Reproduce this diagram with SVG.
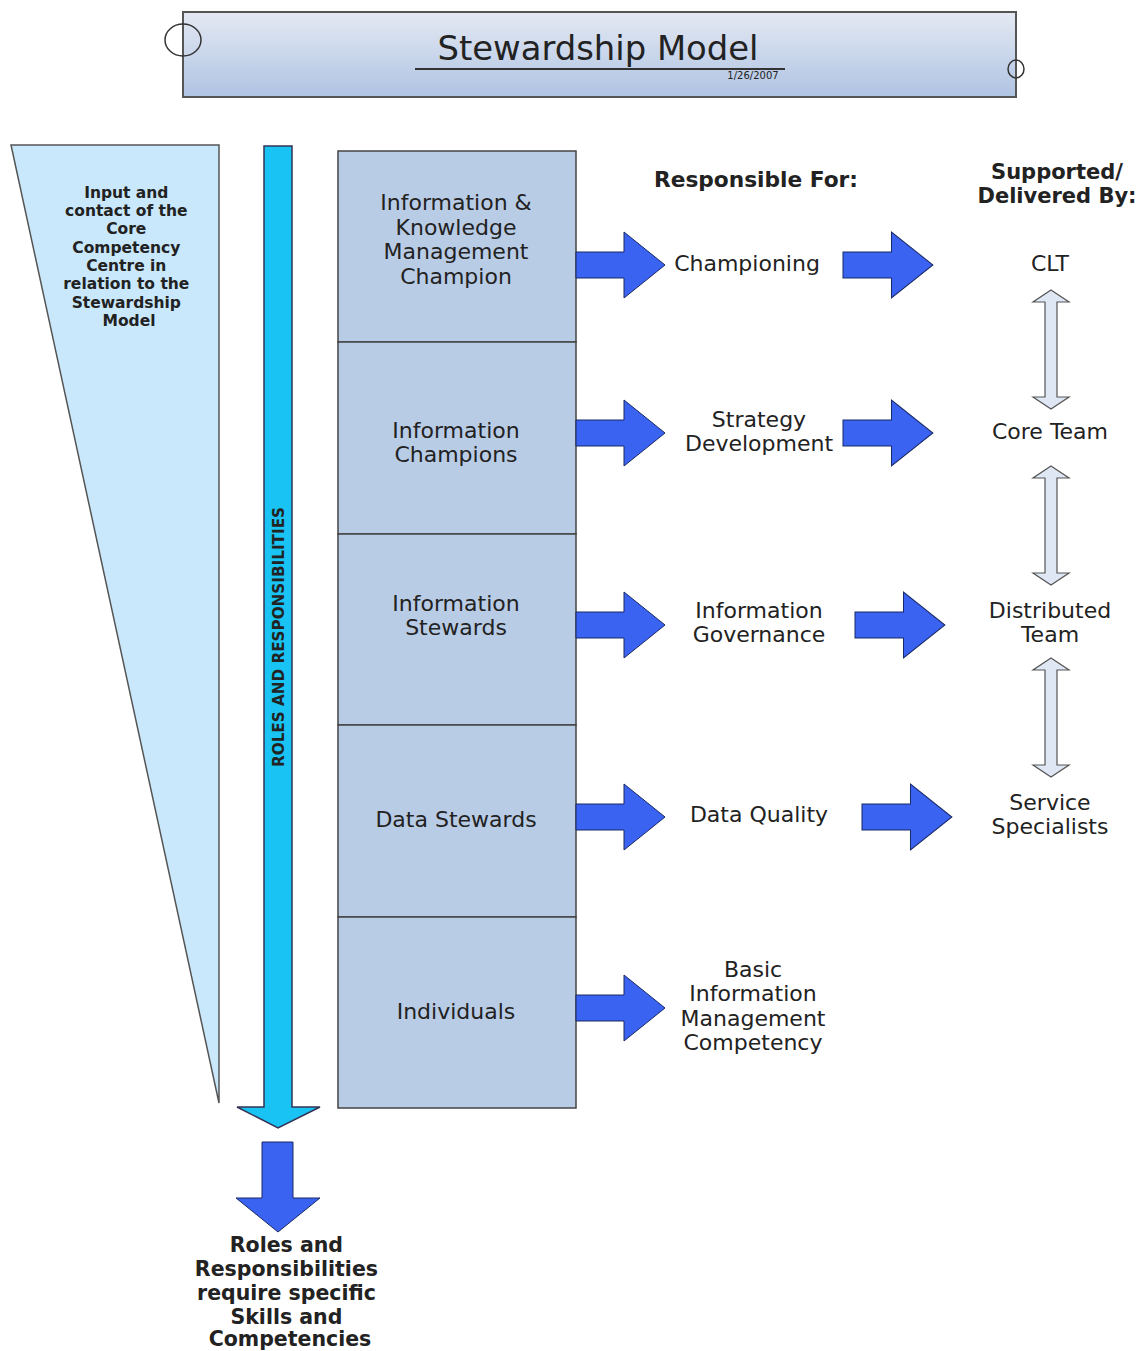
<svg xmlns="http://www.w3.org/2000/svg" width="1144" height="1351" viewBox="0 0 1144 1351">
<defs>
<linearGradient id="tg" x1="0" y1="0" x2="0" y2="1">
<stop offset="0" stop-color="#e4e9f3"/>
<stop offset="1" stop-color="#afc3e3"/>
</linearGradient>
<path id="ra" d="M0,-13 H48 V-33 L89,0 L48,33 V13 H0 Z"/>
<path id="da" d="M0,0 L18,12 H6 V107 H18 L0,119 L-18,107 H-6 V12 H-18 Z"/>
</defs>
<style>
.t{font-family:"DejaVu Sans","Liberation Sans",sans-serif;fill:#222;text-anchor:middle}
.r{font-size:22px}
.b{font-weight:bold}
.blue{fill:#3b63f1;stroke:#1a2a66;stroke-width:1}
.box{fill:#b9cce6;stroke:#444;stroke-width:1.5}
.dbl{fill:#dfe7f4;stroke:#555;stroke-width:1.2}
</style>
<rect width="1144" height="1351" fill="#fff"/>

<g id="title">
<rect x="183" y="12" width="833" height="85" fill="url(#tg)" stroke="#555" stroke-width="2"/>
<ellipse cx="183" cy="40" rx="18" ry="16" fill="none" stroke="#333" stroke-width="1.5"/>
<ellipse cx="1016" cy="69" rx="8" ry="9" fill="none" stroke="#333" stroke-width="1.5"/>
<text class="t" x="598" y="60" font-size="33" textLength="321" lengthAdjust="spacingAndGlyphs">Stewardship Model</text>
<line x1="415" y1="69" x2="785" y2="69" stroke="#333" stroke-width="2"/>
<text class="t" x="753" y="79" font-size="10">1/26/2007</text>
</g>

<g id="input-triangle">
<polygon points="11,145 219,145 219,1103" fill="#c9e8fb" stroke="#555" stroke-width="1.5"/>
<text class="t b" font-size="15.5">
<tspan x="129" y="198">Input and</tspan>
<tspan x="129" y="216">contact of the</tspan>
<tspan x="129" y="234">Core</tspan>
<tspan x="129" y="253">Competency</tspan>
<tspan x="129" y="271">Centre in</tspan>
<tspan x="129" y="289">relation to the</tspan>
<tspan x="129" y="308">Stewardship</tspan>
<tspan x="129" y="326">Model</tspan>
</text>
</g>

<g id="roles-arrow">
<path d="M264,146 H292 V1107 H320 L278,1128 L237,1107 H264 Z" fill="#19c3f3" stroke="#335" stroke-width="1.5"/>
<text class="t b" font-size="16" transform="translate(284,637) rotate(-90)" textLength="260" lengthAdjust="spacingAndGlyphs">ROLES AND RESPONSIBILITIES</text>
</g>

<g id="role-ikm-champion">
<rect class="box" x="338" y="151" width="238" height="191"/>
<text class="t r"><tspan x="456" y="210">Information &amp;</tspan><tspan x="456" y="235">Knowledge</tspan><tspan x="456" y="259">Management</tspan><tspan x="456" y="284">Champion</tspan></text>
</g>
<g id="role-info-champions">
<rect class="box" x="338" y="342" width="238" height="192"/>
<text class="t r"><tspan x="456" y="438">Information</tspan><tspan x="456" y="462">Champions</tspan></text>
</g>
<g id="role-info-stewards">
<rect class="box" x="338" y="534" width="238" height="191"/>
<text class="t r"><tspan x="456" y="611">Information</tspan><tspan x="456" y="635">Stewards</tspan></text>
</g>
<g id="role-data-stewards">
<rect class="box" x="338" y="725" width="238" height="192"/>
<text class="t r" x="456" y="827">Data Stewards</text>
</g>
<g id="role-individuals">
<rect class="box" x="338" y="917" width="238" height="191"/>
<text class="t r" x="456" y="1019">Individuals</text>
</g>

<g id="headers">
<text class="t b" font-size="21" x="756" y="187" textLength="204" lengthAdjust="spacingAndGlyphs">Responsible For:</text>
<text class="t b" font-size="21" x="1057" y="179" textLength="132" lengthAdjust="spacingAndGlyphs">Supported/</text>
<text class="t b" font-size="21" x="1057" y="203" textLength="159" lengthAdjust="spacingAndGlyphs">Delivered By:</text>
</g>

<g id="resp-championing"><text class="t r" x="747" y="271">Championing</text></g>
<g id="resp-strategy"><text class="t r"><tspan x="759" y="427">Strategy</tspan><tspan x="759" y="451">Development</tspan></text></g>
<g id="resp-governance"><text class="t r"><tspan x="759" y="618">Information</tspan><tspan x="759" y="642">Governance</tspan></text></g>
<g id="resp-quality"><text class="t r" x="759" y="822">Data Quality</text></g>
<g id="resp-basic"><text class="t r"><tspan x="753" y="977">Basic</tspan><tspan x="753" y="1001">Information</tspan><tspan x="753" y="1026">Management</tspan><tspan x="753" y="1050">Competency</tspan></text></g>

<g id="sup-clt"><text class="t r" x="1050" y="271">CLT</text></g>
<g id="sup-core"><text class="t r" x="1050" y="439">Core Team</text></g>
<g id="sup-distributed"><text class="t r"><tspan x="1050" y="618">Distributed</tspan><tspan x="1050" y="642">Team</tspan></text></g>
<g id="sup-service"><text class="t r"><tspan x="1050" y="810">Service</tspan><tspan x="1050" y="834">Specialists</tspan></text></g>

<g id="bottom-text">
<text class="t b" font-size="20.5">
<tspan x="290" y="1252">Roles and</tspan>
<tspan x="290" y="1276">Responsibilities</tspan>
<tspan x="290" y="1300">require specific</tspan>
<tspan x="290" y="1324">Skills and</tspan>
<tspan x="290" y="1346">Competencies</tspan>
</text>
</g>

<g id="connectors">
<use href="#ra" class="blue" transform="translate(576,265)"/>
<use href="#ra" class="blue" transform="translate(576,433)"/>
<use href="#ra" class="blue" transform="translate(576,625)"/>
<use href="#ra" class="blue" transform="translate(576,817)"/>
<use href="#ra" class="blue" transform="translate(576,1008)"/>
<use href="#ra" class="blue" transform="translate(843,265) scale(1.01,1)"/>
<use href="#ra" class="blue" transform="translate(843,433) scale(1.01,1)"/>
<use href="#ra" class="blue" transform="translate(855,625) scale(1.01,1)"/>
<use href="#ra" class="blue" transform="translate(862,817) scale(1.01,1)"/>
<use href="#da" class="dbl" transform="translate(1051,290)"/>
<use href="#da" class="dbl" transform="translate(1051,466)"/>
<use href="#da" class="dbl" transform="translate(1051,658)"/>
<path class="blue" d="M262,1142 H293 V1198 H320 L278,1232 L236,1198 H262 Z"/>
</g>
</svg>
